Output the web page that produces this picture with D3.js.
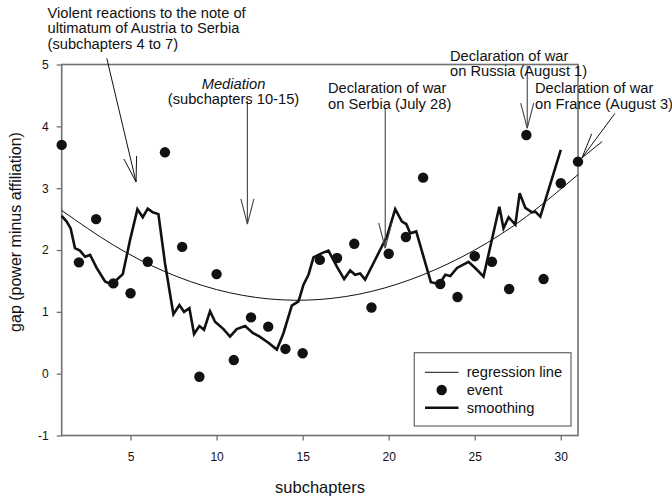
<!DOCTYPE html>
<html>
<head>
<meta charset="utf-8">
<script src="https://cdn.jsdelivr.net/npm/d3@7"></script>
<style>
  body { margin: 0; background: #fff; }
  svg { display: block; font-family: "Liberation Sans", Arial, Helvetica, sans-serif; }
</style>
</head>
<body>
<script>
// subchapters 1..31 and the gap of each event
var subchapters = [1,2,3,4,5,6,7,8,9,10,11,12,13,14,15,16,17,18,19,20,21,22,23,24,25,26,27,28,29,30,31];
var eventGap = [3.70,1.80,2.50,1.46,1.30,1.81,3.58,2.05,-0.05,1.61,0.22,0.91,0.76,0.40,0.33,
                1.84,1.87,2.10,1.07,1.94,2.21,3.17,1.45,1.24,1.90,1.81,1.37,3.86,1.53,3.08,3.43];

// regression line, read at a few subchapters
var regX = [1,4,7,10,13,16,19,22,25,28,31];
var regY = [2.64,2.08,1.65,1.36,1.21,1.20,1.33,1.60,2.00,2.54,3.22];

// smoothing line vertices
var smoothX = [1.00,1.29,1.52,1.77,2.06,2.36,2.65,3.03,3.52,3.91,4.20,4.55,4.97,5.40,5.71,6.00,6.29,6.62,
               7.00,7.49,7.84,8.11,8.42,8.69,9.00,9.27,9.62,9.91,10.40,10.78,11.17,11.66,12.10,12.50,
               13.01,13.50,13.88,14.37,14.76,15.05,15.34,15.63,16.12,16.50,16.99,17.41,17.76,18.05,
               18.34,18.63,19.12,19.50,19.90,20.38,20.77,21.02,21.25,21.60,22.45,22.95,23.29,23.58,
               23.97,24.64,25.13,25.51,26.43,26.67,26.97,27.36,27.61,27.94,28.33,28.52,28.81,30.00];
var smoothY = [2.55,2.46,2.35,2.03,1.99,1.89,1.92,1.71,1.49,1.44,1.52,1.61,2.16,2.66,2.53,2.67,2.61,2.58,
               1.79,0.96,1.11,1.00,1.06,0.64,0.77,0.71,1.01,0.84,0.72,0.60,0.72,0.77,0.66,0.60,
               0.50,0.39,0.65,1.10,1.17,1.44,1.60,1.88,1.95,1.99,1.73,1.53,1.67,1.60,
               1.62,1.52,1.79,2.00,2.22,2.66,2.46,2.42,2.27,2.30,1.48,1.45,1.60,1.58,
               1.71,1.81,1.68,1.57,2.70,2.35,2.53,2.41,2.92,2.68,2.61,2.62,2.54,3.62];

var xTicks = [5,10,15,20,25,30];
var yTicks = [-1,0,1,2,3,4,5];
var legendLabels = ["regression line", "event", "smoothing"];

(function(){

var width = 672, height = 499;
var plotLeft = 61.7, plotRight = 578, plotTop = 64.5, plotBottom = 435.5;
var frameColor = "#707070";

var svg = d3.select("body").append("svg")
    .attr("width", width)
    .attr("height", height);

var x = d3.scaleLinear().domain([1, 31]).range([plotLeft, plotRight]);
var y = d3.scaleLinear().domain([-1, 5]).range([plotBottom, plotTop]);

//axes
var yAxis = svg.append("g")
    .attr("transform", "translate(" + plotLeft + ",0)")
    .call(d3.axisLeft(y).tickValues(yTicks).tickSize(5).tickPadding(8).tickFormat(String));
var xAxis = svg.append("g")
    .attr("transform", "translate(0," + plotBottom + ")")
    .call(d3.axisBottom(x).tickValues(xTicks).tickSize(5).tickPadding(12).tickFormat(String));

[xAxis, yAxis].forEach(function(g){
    g.select(".domain").remove();
    g.selectAll(".tick line").attr("stroke", frameColor).attr("stroke-width", 1.3);
    g.selectAll(".tick text").attr("fill", "#111").style("font-size", "12px")
        .style("font-family", "Liberation Sans, Arial, sans-serif");
});

//frame box
svg.append("rect")
    .attr("x", plotLeft).attr("y", plotTop)
    .attr("width", plotRight - plotLeft).attr("height", plotBottom - plotTop)
    .attr("fill", "none")
    .attr("stroke", frameColor)
    .attr("stroke-width", 1.6);

//axis titles
svg.append("text")
    .attr("transform", "translate(21,232) rotate(-90)")
    .attr("text-anchor", "middle")
    .style("font-size", "16px")
    .attr("fill", "#111")
    .text("gap (power minus affiliation)");
svg.append("text")
    .attr("x", 320).attr("y", 493)
    .attr("text-anchor", "middle")
    .style("font-size", "16.5px")
    .attr("fill", "#111")
    .text("subchapters");

//regression line
var regPts = regX.map(function(d, i){ return [d, regY[i]]; });
svg.append("path")
    .datum(regPts)
    .attr("fill", "none")
    .attr("stroke", "#111")
    .attr("stroke-width", 1)
    .attr("d", d3.line().x(function(d){ return x(d[0]); }).y(function(d){ return y(d[1]); }).curve(d3.curveNatural));

//smoothing line
var smoothPts = smoothX.map(function(d, i){ return [d, smoothY[i]]; });
svg.append("path")
    .datum(smoothPts)
    .attr("fill", "none")
    .attr("stroke", "#111")
    .attr("stroke-width", 2.6)
    .attr("stroke-linejoin", "miter")
    .attr("d", d3.line().x(function(d){ return x(d[0]); }).y(function(d){ return y(d[1]); }));

//events
svg.selectAll(".event")
    .data(subchapters)
    .enter()
    .append("circle")
    .attr("class", "event")
    .attr("cx", function(d){ return x(d); })
    .attr("cy", function(d, i){ return y(eventGap[i]); })
    .attr("r", 5.2)
    .attr("fill", "#111");

//annotations: arrows in data units, open heads
function arrow(x1, y1, x2, y2, color, w){
    var px1 = x(x1), py1 = y(y1), px2 = x(x2), py2 = y(y2);
    var ang = Math.atan2(py2 - py1, px2 - px1);
    var len = 26, spread = 14.5 * Math.PI / 180;
    var g = svg.append("g").attr("stroke", color).attr("stroke-width", w).attr("fill", "none");
    g.append("line").attr("x1", px1).attr("y1", py1).attr("x2", px2).attr("y2", py2);
    [-spread, spread].forEach(function(s){
        g.append("line")
            .attr("x1", px2 - len * Math.cos(ang + s))
            .attr("y1", py2 - len * Math.sin(ang + s))
            .attr("x2", px2).attr("y2", py2);
    });
}

arrow(3.62, 5.10, 5.32, 3.10, "#111", 1);
arrow(11.79, 4.41, 11.79, 2.42, "#444", 1.1);
arrow(19.80, 4.30, 19.80, 2.03, "#444", 1.1);
arrow(28.05, 4.98, 28.05, 3.97, "#444", 1.1);
arrow(33.15, 4.21, 31.23, 3.49, "#111", 1);

function label(lines, px, py, anchor, italicFirst){
    var t = svg.append("text")
        .attr("text-anchor", anchor)
        .style("font-size", "14.7px")
        .attr("fill", "#111");
    lines.forEach(function(l, i){
        t.append("tspan")
            .attr("x", px)
            .attr("y", py + i * 15.5)
            .style("font-style", (italicFirst && i == 0) ? "italic" : "normal")
            .text(l);
    });
}

label(["Violent reactions to the note of", "ultimatum of Austria to Serbia", "(subchapters 4 to 7)"], 47.5, 17.5, "start");
label(["Mediation", "(subchapters 10-15)"], 233.5, 88.5, "middle", true);
label(["Declaration of war", "on Serbia (July 28)"], 328, 93, "start");
label(["Declaration of war", "on Russia (August 1)"], 450, 60.5, "start");
label(["Declaration of war", "on France (August 3)"], 535, 93, "start");

//legend
var legend = svg.append("g");
legend.append("rect")
    .attr("x", 414.3).attr("y", 352.7)
    .attr("width", 156.7).attr("height", 73.3)
    .attr("fill", "#fff")
    .attr("stroke", frameColor)
    .attr("stroke-width", 1.3);
legendLabels.forEach(function(l, i){
    var ly = 372.3 + i * 17.7;
    if (i == 1) {
        legend.append("circle").attr("cx", 441.7).attr("cy", ly).attr("r", 5.2).attr("fill", "#111");
    } else {
        legend.append("line")
            .attr("x1", 425).attr("x2", 458.5)
            .attr("y1", ly).attr("y2", ly)
            .attr("stroke", "#111")
            .attr("stroke-width", i == 0 ? 1 : 2.6);
    }
    legend.append("text")
        .attr("x", 466.7).attr("y", ly + 5)
        .style("font-size", "14.7px")
        .attr("fill", "#111")
        .text(l);
});

})();
</script>
</body>
</html>
